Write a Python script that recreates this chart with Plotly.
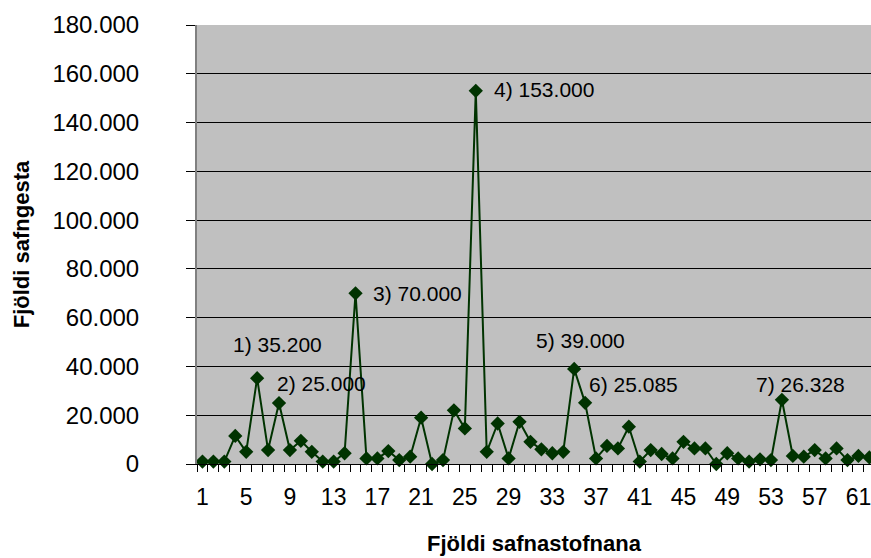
import plotly.graph_objects as go

# ---- data ----
categories = list(range(1, 63))
visitors = [1000, 1000, 1000, 11500, 5000, 35200, 5700, 25000, 5700, 9500,
            5000, 1000, 1000, 4400, 70000, 2300, 2300, 5300, 1600, 3000,
            19000, 0, 1600, 22000, 14600, 153000, 5000, 16600, 2300, 17300,
            9100, 6000, 4400, 5000, 39000, 25085, 2300, 7400, 6400, 15300,
            1000, 5700, 4100, 2300, 9100, 6400, 6400, 0, 4400, 2300,
            1000, 1900, 1600, 26328, 3300, 3000, 5700, 2300, 6400, 1600,
            3300, 2700]
x_tick_vals = list(range(1, 62, 4))
y_tick_vals = [0, 20000, 40000, 60000, 80000, 100000, 120000, 140000, 160000, 180000]
y_tick_text = ["0", "20.000", "40.000", "60.000", "80.000", "100.000",
               "120.000", "140.000", "160.000", "180.000"]
label_cats = [6, 8, 15, 26, 35, 36, 54]
label_texts = ["1) 35.200", "2) 25.000", "3) 70.000", "4) 153.000",
               "5) 39.000", "6) 25.085", "7) 26.328"]
label_shifts = [(20, 34), (42, 20), (62, 0), (68, 1), (6, 28), (48, 18), (19, 15)]

FONT = "Liberation Sans, Arial, sans-serif"
GREEN = "#003300"

fig = go.Figure()
fig.add_trace(go.Scatter(
    x=categories, y=visitors, mode="lines+markers",
    line=dict(color=GREEN, width=2),
    marker=dict(symbol="diamond", size=11, color=GREEN),
    showlegend=False, cliponaxis=False,
))

for c, t, (dx, dy) in zip(label_cats, label_texts, label_shifts):
    fig.add_annotation(x=c, y=visitors[c - 1], xref="x", yref="y", text=t,
                       showarrow=False, xshift=dx, yshift=dy,
                       font=dict(family=FONT, size=21, color="black"))

fig.update_layout(
    width=871, height=558,
    margin=dict(l=197, r=0, t=25, b=94, autoexpand=False),
    paper_bgcolor="white", plot_bgcolor="#C0C0C0",
    font=dict(family=FONT, color="black"),
    xaxis=dict(
        range=[0.5, 62.15], tickmode="array", tickvals=x_tick_vals,
        ticks="", showgrid=False, zeroline=False, automargin=False,
        showline=True, linecolor="black", linewidth=1,
        tickfont=dict(size=23), ticklabelstandoff=12, ticklabeloverflow="allow",
        minor=dict(ticks="outside", ticklen=7, tickcolor="black", tickwidth=1,
                   tick0=0.5, dtick=1, showgrid=False),
        title=dict(text="<b>Fjöldi safnastofnana</b>", font=dict(size=22), standoff=27),
    ),
    yaxis=dict(
        range=[0, 180000], tickmode="array", tickvals=y_tick_vals, ticktext=y_tick_text,
        ticks="outside", ticklen=9, tickcolor="black", tickwidth=1,
        showgrid=True, gridcolor="black", gridwidth=1, zeroline=False, automargin=False,
        showline=True, linecolor="#808080", linewidth=2,
        tickfont=dict(size=24), ticklabelstandoff=42,
        title=dict(text="<b>Fjöldi safngesta</b>", font=dict(size=22), standoff=17),
    ),
)

fig.write_html(
    "out.html",
    config={"displayModeBar": False},
    post_script="document.body.style.margin='0';document.body.style.overflow='hidden';",
)
